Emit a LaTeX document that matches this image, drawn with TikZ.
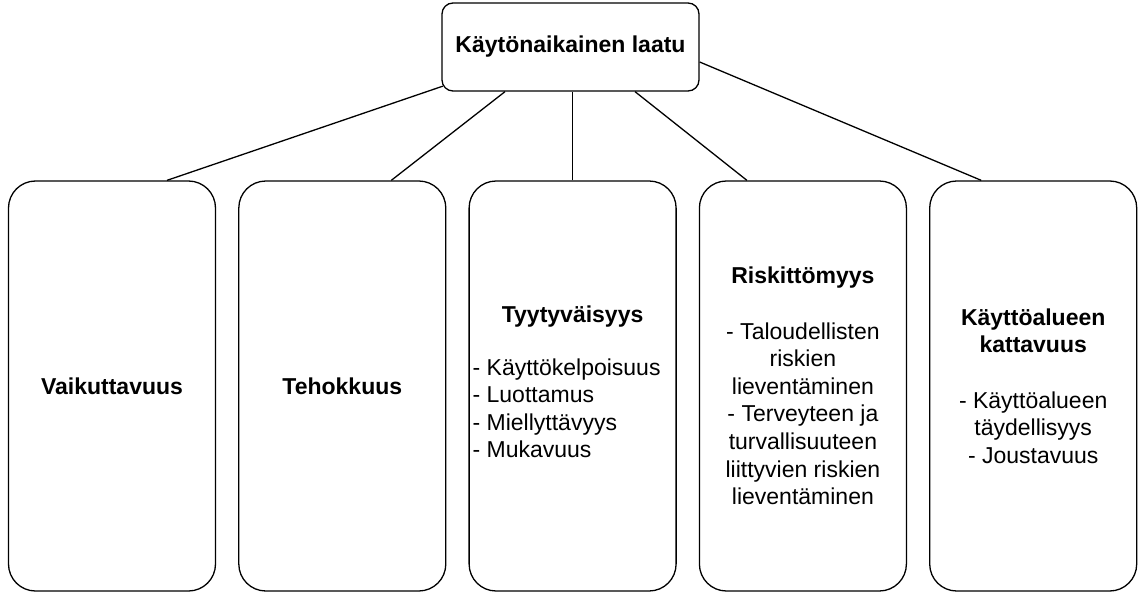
\documentclass[tikz,border=0pt]{standalone}
\usepackage{fontspec}
\setmainfont{Liberation Sans}
\usetikzlibrary{positioning}

\begin{document}
\begin{tikzpicture}[x=1pt, y=1pt, line width=1.3pt,
    every node/.style={font=\fontsize{23}{27.6}\selectfont},
    rootbox/.style={draw, rounded corners=11pt, minimum width=257pt, minimum height=88pt, inner sep=0pt, font=\fontsize{23}{27.6}\selectfont\bfseries},
    catbox/.style={draw, rounded corners=27pt, minimum width=207pt, minimum height=410pt, inner sep=0pt, align=center}]
    \useasboundingbox (0,0) rectangle (1142,-593);

    \node [rootbox] (top) at (570.5,-47) {Käytönaikainen laatu};

    \node [catbox] (vaik) at (112,-386) {\textbf{Vaikuttavuus}};
    \node [catbox, right=22pt of vaik] (teho) {\textbf{Tehokkuus}};
    \node [catbox, right=22pt of teho] (tyyt) {\textbf{Tyytyväisyys}\\[27.6pt]
        \hspace*{-12pt}\begin{tabular}{@{}l@{}}- Käyttökelpoisuus\\- Luottamus\\- Miellyttävyys\\- Mukavuus\end{tabular}};
    \node [catbox, right=22pt of tyyt] (risk) {\textbf{Riskittömyys}\\[27.6pt]
        - Taloudellisten\\riskien\\lieventäminen\\- Terveyteen ja\\turvallisuuteen\\liittyvien riskien\\lieventäminen};
    \node [catbox, right=22pt of risk] (katt) {\textbf{Käyttöalueen}\\\textbf{kattavuus}\\[27.6pt]
        - Käyttöalueen\\täydellisyys\\- Joustavuus};

    \draw ([xshift=55pt]vaik.north) -- ([shift={(1.5pt,5.5pt)}]top.south west);
    \draw ([xshift=49pt]teho.north) -- ([xshift=-65.5pt]top.south);
    \draw (tyyt.north) -- (tyyt.north |- top.south);
    \draw ([xshift=-56pt]risk.north) -- ([xshift=64.5pt]top.south);
    \draw ([xshift=-52pt]katt.north) -- ([yshift=-15pt]top.east);
\end{tikzpicture}
\end{document}
